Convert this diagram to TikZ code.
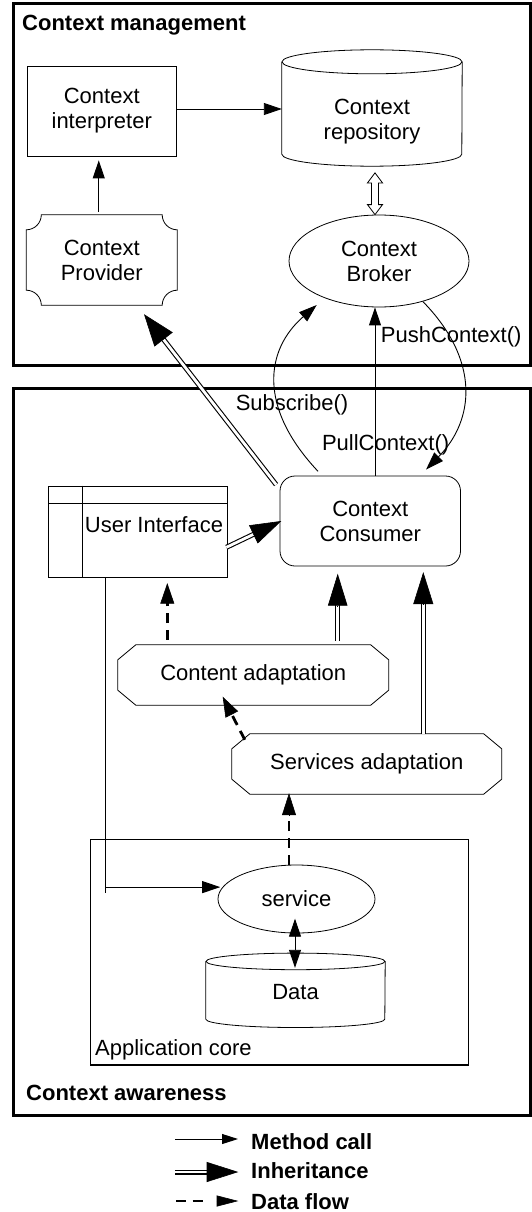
\documentclass[tikz,border=0pt]{standalone}
\usepackage{fontspec}
\setmainfont{Liberation Sans}
\usetikzlibrary{arrows.meta,calc,shapes.geometric}
\tikzset{
  txt/.style={font=\fontsize{22}{25}\selectfont, align=center, inner sep=0pt},
  btxt/.style={font=\fontsize{22}{25}\selectfont\bfseries, inner sep=0pt},
  shapebox/.style={draw, line width=0.8pt, inner sep=0pt},
  frame/.style={draw, line width=3pt, inner sep=0pt},
  thinline/.style={line width=0.8pt},
  mcall/.style={line width=0.9pt, -{Triangle[length=18pt,width=12pt]}},
  inhline/.style={line width=1.1pt, double=white, double distance=2.8pt},
  inhtip/.style 2 args={line width=0.6pt, -{Triangle[length=#1,width=#2]}},
  dfline/.style={line width=2.8pt, dash pattern=on 10pt off 6.7pt},
  dftip/.style 2 args={line width=0.6pt, -{Triangle[length=#1,width=#2]}},
}
\begin{document}
\begin{tikzpicture}[x=1pt,y=1pt]
\useasboundingbox (0,0) rectangle (532,-1212);
% frames
\node[frame, minimum width=516.5pt, minimum height=361.5pt] (cm) at (271.75,-184.25) {};
\node[frame, minimum width=516.5pt, minimum height=727pt] (caw) at (271.75,-751.5) {};
\node[btxt, anchor=base west] (cmtitle) at (22,-31) {Context management};
\node[btxt, anchor=base west] (catitle) at (26,-1100) {Context awareness};

% context management nodes
\node[shapebox, txt, minimum width=149.5pt, minimum height=90pt] (interp) at (101.75,-111) {Context\\interpreter};
\node[inner sep=0pt, minimum width=180pt, minimum height=116pt] (repo) at (372,-108) {};
\draw[thinline] ($(repo.north west)+(0,-12)$) -- ($(repo.south west)+(0,12)$)
  arc[start angle=180,end angle=360,x radius=90pt,y radius=12pt] -- ($(repo.north east)+(0,-12)$);
\draw[thinline] ($(repo.north)+(0,-12)$) ellipse[x radius=90pt,y radius=12pt];
\node[txt] (repotxt) at (372,-121.5) {Context\\repository};
\node[shapebox, ellipse, txt, minimum width=180pt, minimum height=92pt] (broker) at (379,-261) {Context\\Broker};
\node[txt, minimum width=150.5pt, minimum height=90pt] (prov) at (101.75,-260) {Context\\Provider};
\draw[thinline] ($(prov.north west)+(15,0)$) -- ($(prov.north east)+(-15,0)$)
  arc[start angle=180,end angle=270,radius=15pt] -- ($(prov.south east)+(0,15)$)
  arc[start angle=90,end angle=180,radius=15pt] -- ($(prov.south west)+(15,0)$)
  arc[start angle=0,end angle=90,radius=15pt] -- ($(prov.north west)+(0,-15)$)
  arc[start angle=270,end angle=360,radius=15pt] -- cycle;

% context awareness nodes
\node[shapebox, txt, rounded corners=15pt, minimum width=180.5pt, minimum height=90pt] (cons) at (370.25,-521) {Context\\Consumer};
\node[shapebox, minimum width=179pt, minimum height=91pt] (ui) at (138,-531.5) {};
\draw[thinline] ([yshift=-18pt]ui.north west) -- ([yshift=-18pt]ui.north east);
\draw[thinline] ([xshift=34.5pt]ui.north west) -- ([xshift=34.5pt]ui.south west);
\node[txt] (uitxt) at (154,-524.3) {User Interface};

\node[txt, minimum width=270.5pt, minimum height=60pt] (cont) at (253.25,-675) {Content adaptation};
\draw[thinline] ($(cont.north west)+(18,0)$) -- ($(cont.north east)+(-18,0)$) -- ($(cont.north east)+(0,-15)$)
  -- ($(cont.south east)+(0,15)$) -- ($(cont.south east)+(-18,0)$) -- ($(cont.south west)+(18,0)$)
  -- ($(cont.south west)+(0,15)$) -- ($(cont.north west)+(0,-15)$) -- cycle;
\node[txt, minimum width=269.5pt, minimum height=60pt] (serv) at (366.75,-764) {Services adaptation};
\draw[thinline] ($(serv.north west)+(18,0)$) -- ($(serv.north east)+(-18,0)$) -- ($(serv.north east)+(0,-15)$)
  -- ($(serv.south east)+(0,15)$) -- ($(serv.south east)+(-18,0)$) -- ($(serv.south west)+(18,0)$)
  -- ($(serv.south west)+(0,15)$) -- ($(serv.north west)+(0,-15)$) -- cycle;

\node[draw, line width=1.5pt, inner sep=0pt, minimum width=377.7pt, minimum height=225.7pt] (app) at (279.45,-952.15) {};
\node[txt, anchor=base west] (applabel) at (95,-1055) {Application core};
\node[shapebox, ellipse, txt, minimum width=157pt, minimum height=68pt] (svc) at (296.5,-899) {service};
\node[inner sep=0pt, minimum width=179pt, minimum height=74pt] (data) at (295.5,-990.3) {};
\draw[thinline] ($(data.north west)+(0,-8.3)$) -- ($(data.south west)+(0,8.3)$)
  arc[start angle=180,end angle=360,x radius=89.5pt,y radius=8.3pt] -- ($(data.north east)+(0,-8.3)$);
\draw[thinline] ($(data.north)+(0,-8.3)$) ellipse[x radius=89.5pt,y radius=8.3pt];
\node[txt] (datatxt) at (295.5,-991.7) {Data};

% method calls
\draw[mcall] ([yshift=2pt]interp.east) -- ([yshift=2pt]interp.east -| repo.west);
\draw[mcall] ([xshift=-3pt,yshift=3pt]prov.north) -- ([xshift=-3pt,yshift=-4pt]interp.south);
\draw[mcall] ([shift={(-52.25,4.3)}]cons.north) .. controls +(-60,63.7) and +(-51.7,-45) .. ([shift={(-62.3,-44)}]broker.center);
\draw[mcall] ([xshift=4.75pt]cons.north) -- ([xshift=4.75pt]cons.north |- broker.south);
\draw[mcall] ([shift={(44,-40.7)}]broker.center) .. controls +(57,-58.3) and +(49,50) .. ([shift={(55.75,6)}]cons.north);
\node[txt] (lsub) at (292,-405) {Subscribe()};
\node[txt] (lpull) at (385.6,-445) {PullContext()};
\node[txt] (lpush) at (451.2,-336.5) {PushContext()};

\coordinate (uiturn) at ([shift={(-33,-309.7)}]ui.south);
\draw[thinline] ([xshift=-33pt]ui.south) -- ([yshift=-6pt]uiturn);
\draw[mcall] (uiturn) -- ($(uiturn -| svc.west)+(2.6,0)$);
\draw[line width=0.9pt, {Triangle[length=18pt,width=12pt]}-{Triangle[length=18pt,width=12pt]}] ([shift={(-1.5,14.7)}]svc.south) -- ([shift={(-0.5,-14.7)}]data.north);

% hollow double arrow repository <-> broker
\coordinate (h1) at ([shift={(3,-6.7)}]repo.south);
\coordinate (h2) at ([xshift=-4pt]broker.north);
\draw[line width=0.8pt, fill=white] (h1) -- ++(7.5,-10) -- ++(-4,0) -- ($(h2)+(3.5,10)$) -- ++(4,0) -- (h2)
  -- ++(-7.5,10) -- ++(4,0) -- ($(h1)+(-3.5,-10)$) -- ++(-4,0) -- cycle;

% inheritance
\coordinate (i1s) at ([shift={(-3.5,-9)}]cons.north west);
\coordinate (i1e) at ([shift={(42.25,-9)}]prov.south);
\draw[inhline, shorten >=26pt] (i1s) -- (i1e);
\draw[inhtip={32pt}{23pt}] ($(i1e)!32pt!(i1s)$) -- (i1e);

\coordinate (i2s) at ([shift={(-1.5,-15.8)}]ui.east);
\coordinate (i2e) at ([xshift=1.7pt]cons.west);
\draw[inhline, shorten >=25pt] (i2s) -- (i2e);
\draw[inhtip={31pt}{20pt}] ($(i2e)!31pt!(i2s)$) -- (i2e);

\coordinate (i3s) at ([shift={(84.45,4.3)}]cont.north);
\coordinate (i3e) at ([yshift=-7.3pt]i3s |- cons.south);
\draw[inhline, shorten >=26pt] (i3s) -- (i3e);
\draw[inhtip={32pt}{19.5pt}] ($(i3e)!32pt!(i3s)$) -- (i3e);

\coordinate (i4s) at ([xshift=56.55pt]serv.north);
\coordinate (i4e) at ([yshift=-5.7pt]i4s |- cons.south);
\draw[inhline, shorten >=26pt] (i4s) -- (i4e);
\draw[inhtip={32pt}{20pt}] ($(i4e)!32pt!(i4s)$) -- (i4e);

% data flow
\coordinate (d1s) at ([shift={(-85.95,5)}]cont.north);
\coordinate (d1e) at ([yshift=-5.7pt]d1s |- ui.south);
\draw[dfline, shorten >=18pt] (d1s) -- (d1e);
\draw[dftip={20.6pt}{14pt}] ($(d1e)!20.6pt!(d1s)$) -- (d1e);

\coordinate (d2s) at ([shift={(13,-6)}]serv.north west);
\coordinate (d2e) at ([shift={(-30.55,8.5)}]cont.south);
\draw[dfline, shorten >=17pt] (d2s) -- (d2e);
\draw[dftip={20pt}{14pt}] ($(d2e)!20pt!(d2s)$) -- (d2e);

\coordinate (d3s) at ([xshift=-7.5pt]svc.north);
\coordinate (d3e) at ([yshift=1pt]d3s |- serv.south);
\draw[dfline, shorten >=19pt] (d3s) -- (d3e);
\draw[dftip={22pt}{14pt}] ($(d3e)!22pt!(d3s)$) -- (d3e);

% legend
\coordinate (lg1a) at (175,-1139);
\coordinate (lg1b) at (238,-1139);
\draw[line width=0.9pt, -{Triangle[length=16pt,width=10pt]}] (lg1a) -- (lg1b);
\node[btxt, anchor=base west] (lgt1) at (251,-1149) {Method call};
\coordinate (lg2a) at (175,-1172);
\coordinate (lg2b) at (238.3,-1172);
\draw[inhline, shorten >=26pt] (lg2a) -- (lg2b);
\draw[inhtip={31.6pt}{20pt}] ($(lg2b)!31.6pt!(lg2a)$) -- (lg2b);
\node[btxt, anchor=base west] (lgt2) at (251,-1178) {Inheritance};
\coordinate (lg3a) at (176,-1201);
\coordinate (lg3b) at (238.3,-1201);
\draw[dfline] (lg3a) -- ($(lg3b)!35.6pt!(lg3a)$);
\draw[dftip={21.6pt}{11pt}] ($(lg3b)!21.6pt!(lg3a)$) -- (lg3b);
\node[btxt, anchor=base west] (lgt3) at (251,-1209) {Data flow};
\end{tikzpicture}
\end{document}
